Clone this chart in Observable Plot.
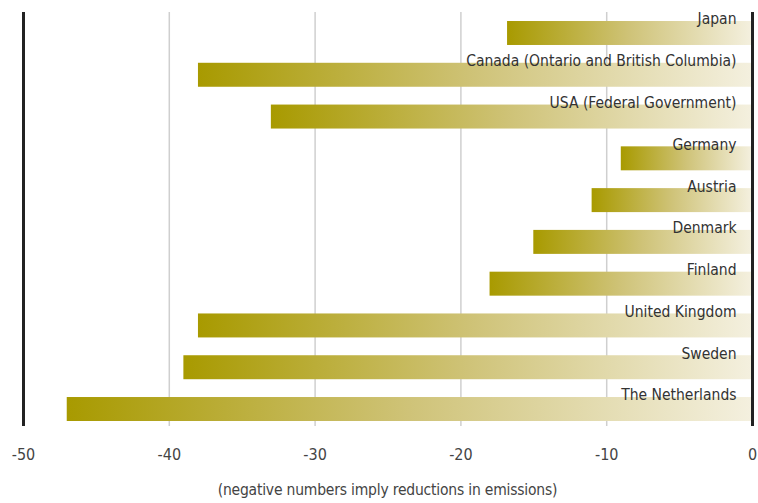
<!DOCTYPE html>
<html>
<head>
<meta charset="utf-8">
<script src="https://cdn.jsdelivr.net/npm/d3@7"></script>
<script src="https://cdn.jsdelivr.net/npm/@observablehq/plot@0.6"></script>
<style>
  body { margin: 0; background: #fff; }
  #chart { width: 758px; }
  .caption { width: 729px; margin-left: 23px; text-align: center; font-family: "DejaVu Sans Condensed", sans-serif; font-size: 15.5px; letter-spacing: -0.2px; color: #444; margin-top: 11px; }
</style>
</head>
<body>
<div id="chart"></div>
<div class="caption">(negative numbers imply reductions in emissions)</div>
<script>
const countries = ["Japan", "Canada (Ontario and British Columbia)", "USA (Federal Government)", "Germany", "Austria", "Denmark", "Finland", "United Kingdom", "Sweden", "The Netherlands"];
const values = [-16.8, -38, -33, -9, -11, -15, -18, -38, -39, -47];
const xTicks = [-50, -40, -30, -20, -10, 0];
const gridTicks = [-40, -30, -20, -10];
const frameTicks = [-50, 0];

const data = countries.map((c, i) => ({country: c, value: values[i]}));
const font = '"DejaVu Sans Condensed", sans-serif';

const plot = Plot.plot({
  width: 758,
  height: 470,
  marginLeft: 23,
  marginRight: 6,
  marginTop: 12,
  marginBottom: 44,
  style: { fontFamily: font, fontSize: "16px", color: "#444", background: "#fff", overflow: "visible" },
  x: { domain: [-50, 0], ticks: xTicks, tickFormat: d => String(d), tickSize: 0, tickPadding: 22, label: null },
  y: { domain: countries, range: [21, 421], paddingInner: 0.426, paddingOuter: 0, round: false, axis: null },
  marks: [
    Plot.ruleX(gridTicks, { stroke: "#cfcfcf", strokeWidth: 1.5 }),
    Plot.barX(data, { x1: "value", x2: 0, y: "country", fill: "url(#barGrad)" }),
    Plot.ruleX(frameTicks, { stroke: "#222", strokeWidth: 3 }),
    Plot.text(data, { x: 0, y: "country", text: "country", textAnchor: "end", dx: -16, dy: -14, fill: "#333", fontSize: 15.5, letterSpacing: "-0.2px" })
  ]
});

const ns = "http://www.w3.org/2000/svg";
const defs = document.createElementNS(ns, "defs");
const grad = document.createElementNS(ns, "linearGradient");
grad.setAttribute("id", "barGrad");
grad.setAttribute("x1", "0"); grad.setAttribute("x2", "1");
grad.setAttribute("y1", "0"); grad.setAttribute("y2", "0");
[["0", "#a89a00"], ["0.5", "#cfc378"], ["1", "#f4f0df"]].forEach(([o, c]) => {
  const s = document.createElementNS(ns, "stop");
  s.setAttribute("offset", o); s.setAttribute("stop-color", c);
  grad.appendChild(s);
});
defs.appendChild(grad);
plot.insertBefore(defs, plot.firstChild);
document.getElementById("chart").appendChild(plot);
</script>
</body>
</html>
